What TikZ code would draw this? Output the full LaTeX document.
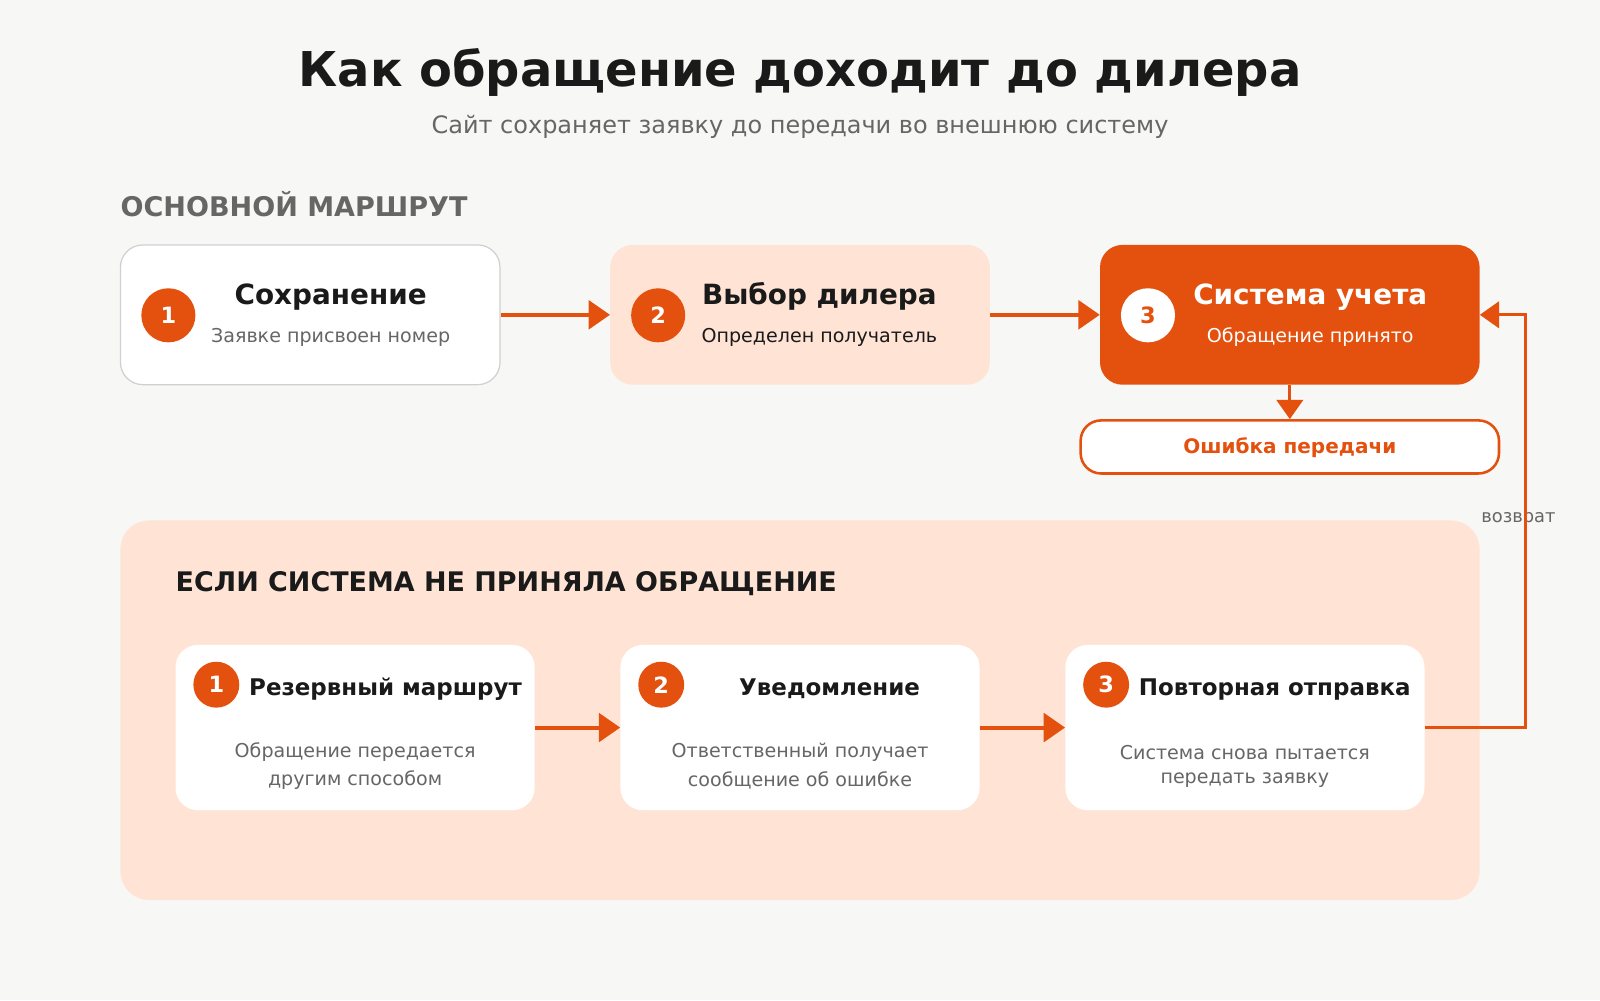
\documentclass[tikz,border=0pt]{standalone}
\usepackage{fontspec}
\setmainfont{DejaVu Sans}
\usetikzlibrary{arrows.meta}
\definecolor{bg}{HTML}{F7F7F5}
\definecolor{org}{HTML}{E4500E}
\definecolor{peach}{HTML}{FFE4D6}
\definecolor{dark}{HTML}{1A1A1A}
\definecolor{gry}{HTML}{666666}
\definecolor{bord}{HTML}{D0D0D0}
\newcommand{\fs}[1]{\fontsize{#1}{#1}\selectfont}
\begin{document}
\begin{tikzpicture}[x=1pt,y=-1pt,
  topbox/.style={rectangle,rounded corners=22pt,minimum width=372pt,minimum height=137pt,inner sep=0pt},
  botbox/.style={rectangle,rounded corners=22pt,fill=white,minimum width=352pt,minimum height=162pt,inner sep=0pt},
  numc/.style={circle,fill=org,text=white,minimum size=53pt,inner sep=0pt,font=\bfseries\fs{22}},
  snumc/.style={circle,fill=org,text=white,minimum size=45pt,inner sep=0pt,font=\bfseries\fs{22}},
  ttl/.style={anchor=base,inner sep=0pt,font=\bfseries\fs{27.3},text=dark},
  sub/.style={anchor=base,inner sep=0pt,font=\fs{18.7},text=gry},
  bttl/.style={anchor=base west,inner sep=0pt,font=\bfseries\fs{22.5},text=dark},
  arr/.style={draw=org,line width=4pt,-{Triangle[length=21pt,width=28pt]}},
  retarr/.style={draw=org,line width=3pt,-{Triangle[length=19pt,width=26pt]}}
]
\fill[bg] (0,0) rectangle (1568,980);
\useasboundingbox (0,0) rectangle (1568,980);

% titles
\node[anchor=base,inner sep=0pt,font=\bfseries\fs{47},text=dark] (title) at (784,85) {Как обращение доходит до дилера};
\node[anchor=base,inner sep=0pt,font=\fs{23.5},text=gry] (subtitle) at (784,131) {Сайт сохраняет заявку до передачи во внешнюю систему};
\node[anchor=base west,inner sep=0pt,font=\bfseries\fs{26.5},text=gry] (main) at (118,212) {ОСНОВНОЙ МАРШРУТ};

% top boxes
\node[topbox,fill=white,draw=bord,line width=1.2pt] (s1) at (304,308.5) {};
\node[topbox,fill=peach] (s2) at (784,308.5) {};
\node[topbox,fill=org] (s3) at (1264,308.5) {};

\node[numc] (c1) at (165,309) {1};
\node[numc] (c2) at (645,309) {2};
\node[numc,fill=white,text=org] (c3) at (1125,309) {3};

\node[ttl] (t1) at (324,298) {Сохранение};
\node[sub] (d1) at (324,336) {Заявке присвоен номер};
\node[ttl] (t2) at (803,298) {Выбор дилера};
\node[sub,text=dark] (d2) at (803,336) {Определен получатель};
\node[ttl,text=white] (t3) at (1284,298) {Система учета};
\node[sub,text=white] (d3) at (1284,336) {Обращение принято};

\draw[arr] (s1.east) -- (s2.west);
\draw[arr] (s2.east) -- (s3.west);

% error box
\node[rectangle,rounded corners=20pt,fill=white,draw=org,line width=2.5pt,minimum width=410pt,minimum height=52pt,inner sep=0pt] (err) at (1264,438) {};
\node[anchor=base,inner sep=0pt,font=\bfseries\fs{19.6},text=org] (errt) at (1264,444) {Ошибка передачи};
\draw[retarr] (s3.south) -- (err.north);

% bottom panel
\node[rectangle,rounded corners=28pt,fill=peach,minimum width=1332pt,minimum height=372pt,inner sep=0pt] (panel) at (784,696) {};
\node[anchor=base west,inner sep=0pt,font=\bfseries\fs{26.4},text=dark] (ptitle) at (172,580) {ЕСЛИ СИСТЕМА НЕ ПРИНЯЛА ОБРАЩЕНИЕ};

\node[botbox] (b1) at (348,713) {};
\node[botbox] (b2) at (784,713) {};
\node[botbox] (b3) at (1220,713) {};

\node[snumc] (n1) at (212,671) {1};
\node[snumc] (n2) at (648,671) {2};
\node[snumc] (n3) at (1084,671) {3};

\node[bttl] (bt1) at (244,682) {Резервный маршрут};
\node[bttl,anchor=base] (bt2) at (813,682) {Уведомление};
\node[bttl] (bt3) at (1116,682) {Повторная отправка};

\node[sub] (e1a) at (348,742) {Обращение передается};
\node[sub] (e1b) at (348,770) {другим способом};
\node[sub] (e2a) at (784,742) {Ответственный получает};
\node[sub] (e2b) at (784,771) {сообщение об ошибке};
\node[sub] (e3a) at (1220,744) {Система снова пытается};
\node[sub] (e3b) at (1220,768) {передать заявку};

\draw[arr] (b1.east) -- (b2.west);
\draw[arr] (b2.east) -- (b3.west);

% return
\node[anchor=base,inner sep=0pt,font=\fs{17.5},text=gry] (ret) at (1488,512) {возврат};
\coordinate (rx) at (1495,500);
\draw[retarr] (b3.east) -| (rx) |- (s3.east);
\end{tikzpicture}
\end{document}
